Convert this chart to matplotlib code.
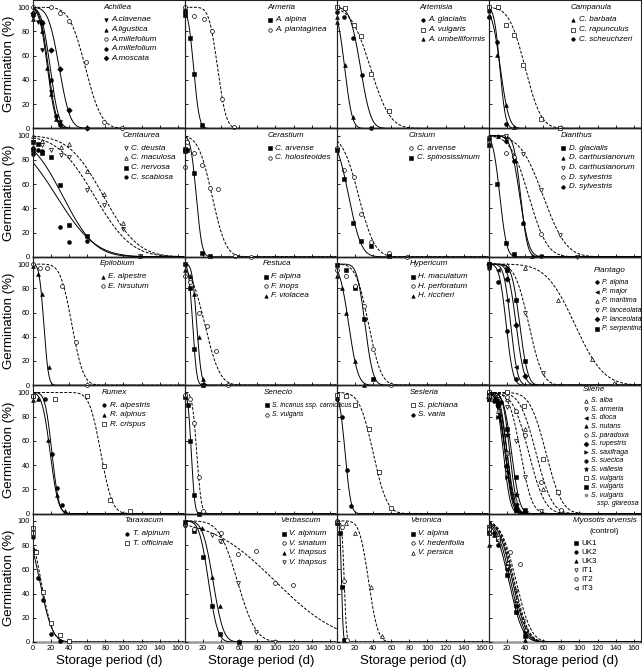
import math
import numpy as np
import matplotlib
matplotlib.use("Agg")
import matplotlib.pyplot as plt

plt.rcParams["font.family"] = ["Liberation Sans", "DejaVu Sans"]

# ---------------- data ----------------
# each series: days, germination (%), fitted curve p50 (d) and sigma (d)

achillea_names = ["A.clavenae", "A.ligustica", "A.millefolium", "A.millefolium", "A.moscata"]
achillea_days = [[0, 5, 10, 20, 30], [0, 10, 15, 20, 25], [0, 20, 30, 40, 59, 78, 98],
                 [0, 10, 20, 25, 30], [0, 10, 20, 30, 40, 60]]
achillea_germ = [[92, 88, 65, 30, 5], [90, 80, 50, 28, 8], [100, 100, 95, 89, 55, 5, 0],
                 [94, 88, 40, 10, 3], [95, 87, 65, 49, 15, 0]]
achillea_p50 = [16, 17, 58, 19, 29]
achillea_sigma = [7, 7, 14, 7.5, 9.5]

armeria_names = ["A. alpina", "A. plantaginea"]
armeria_days = [[0, 0, 5, 10, 19], [0, 10, 21, 30, 41, 54]]
armeria_germ = [[97, 94, 75, 45, 3], [100, 93, 90, 80, 24, 1]]
armeria_p50 = [9.5, 36]
armeria_sigma = [5, 7.5]

artemisia_names = ["A. glacialis", "A. vulgaris", "A. umbelliformis"]
artemisia_days = [[0, 8, 18, 28, 38], [0, 9, 19, 27, 38, 57], [0, 0, 8.5, 17.6]]
artemisia_germ = [[96, 92, 75, 44, 0], [100, 99, 85, 76, 45, 14], [92, 88, 52, 9]]
artemisia_p50 = [26, 37, 8.5]
artemisia_sigma = [9, 17, 6.5]

campanula_names = ["C. barbata", "C. rapunculus", "C. scheuchzeri"]
campanula_days = [[0, 9, 19, 28], [0, 10, 19, 28, 38, 57, 78], [0, 0, 9, 19]]
campanula_germ = [[93, 61, 19, 1], [100, 100, 85, 77, 52, 8, 0], [97, 92, 71, 4]]
campanula_p50 = [12.5, 40, 12]
campanula_sigma = [7.5, 14, 5]

centaurea_names = ["C. deusta", "C. maculosa", "C. nervosa", "C. scabiosa"]
centaurea_days = [[0, 10, 20, 31, 40, 60, 79, 99, 118], [0, 10, 31, 40, 60, 79, 99, 118],
                  [0, 0, 5, 10, 20, 30, 40, 60], [0, 0, 5, 10, 30, 40, 60]]
centaurea_germ = [[95, 92, 88, 84, 82, 55, 43, 23, 1], [100, 96, 91, 93, 71, 52, 28, 1],
                  [95, 88, 93, 86, 82, 59, 26, 17], [90, 85, 88, 87, 25, 12, 13]]
centaurea_p50 = [68, 78, 33, 26]
centaurea_sigma = [32, 30, 28, 34]

cerastium_names = ["C. arvense", "C. holosteoides"]
cerastium_days = [[0, 0, 2, 10, 19, 28], [0, 2, 10, 19, 28, 37, 55, 73]]
cerastium_germ = [[89, 87, 88, 69, 3, 1], [74, 95, 86, 76, 57, 56, 1, 0]]
cerastium_p50 = [12.5, 30]
cerastium_sigma = [5, 12]

cirsium_names = ["C. arvense", "C. spinosissimum"]
cirsium_days = [[0, 8, 19, 27, 38, 57, 77], [0, 8, 18, 27, 38, 57]]
cirsium_germ = [[90, 72, 66, 35, 12, 3, 0], [88, 64, 28, 13, 9, 1]]
cirsium_p50 = [24, 13]
cirsium_sigma = [14, 11]

dianthus_names = ["D. glacialis", "D. carthusianorum", "D. carthusianorum", "D. sylvestris", "D. sylvestris"]
dianthus_days = [[0, 9, 19, 28], [0, 10, 19, 38, 48], [0, 19, 38, 57, 78, 97],
                 [0, 19, 28, 57], [0, 19, 28, 38, 57]]
dianthus_germ = [[92, 60, 11, 2], [100, 100, 100, 28, 1], [98, 100, 85, 55, 18, 0],
                 [96, 86, 82, 19], [97, 96, 79, 28, 1]]
dianthus_p50 = [12, 35, 60, 44, 34]
dianthus_sigma = [6, 6, 20, 16, 8]

epilobium_names = ["E. alpestre", "E. hirsutum"]
epilobium_days = [[0, 5, 10, 17.6], [0, 8, 16, 32, 47, 60]]
epilobium_germ = [[98, 92, 75, 15], [100, 97, 97, 82, 36, 0]]
epilobium_p50 = [12, 43]
epilobium_sigma = [4, 10]

festuca_names = ["F. alpina", "F. inops", "F. violacea"]
festuca_days = [[0, 5, 10, 20], [0, 5, 15, 24, 34, 47], [0, 5, 10, 15, 20]]
festuca_germ = [[100, 80, 30, 0], [90, 85, 60, 49, 28, 0], [95, 90, 75, 40, 5]]
festuca_p50 = [8.5, 22, 13]
festuca_sigma = [3.5, 13, 4]

hypericum_names = ["H. maculatum", "H. perforatum", "H. riccheri"]
hypericum_days = [[0, 10, 20, 30, 40], [0, 10, 20, 30, 40, 60], [0, 5, 10, 20, 30]]
hypericum_germ = [[99, 95, 80, 55, 5], [95, 90, 82, 65, 30, 0], [90, 80, 60, 20, 0]]
hypericum_p50 = [31, 35, 13]
hypericum_sigma = [7, 11, 8]

plantago_names = ["P. alpina", "P. major", "P. maritima", "P. lanceolata", "P. lanceolata", "P. serpentina"]
plantago_days = [[0, 10, 20, 30], [0, 10, 20, 30], [0, 20, 40, 76, 114, 138],
                 [0, 20, 40, 60], [0, 20, 30, 40], [0, 20, 30, 40]]
plantago_germ = [[97, 85, 45, 5], [98, 95, 70, 15], [100, 99, 97, 70, 22, 2],
                 [100, 95, 60, 10], [100, 88, 50, 8], [100, 95, 70, 20]]
plantago_p50 = [19, 24, 95, 44, 30, 34]
plantago_sigma = [6, 6, 25, 12, 7, 7]

rumex_names = ["R. alpestris", "R. alpinus", "R. crispus"]
rumex_days = [[0, 13, 21, 26, 32], [0, 5.5, 16.5, 26, 35], [0, 24, 60, 78, 85, 107]]
rumex_germ = [[97, 95, 49, 21, 7], [94, 95, 61, 15, 2], [97, 95, 97, 39, 11, 2]]
rumex_p50 = [21, 19, 75]
rumex_sigma = [6, 7, 10]

senecio_names = ["S. incanus ssp. carniolicus", "S. vulgaris"]
senecio_days = [[0, 3, 6, 10, 15], [0, 5, 10, 15, 20]]
senecio_germ = [[96, 90, 60, 15, 0], [98, 95, 75, 30, 2]]
senecio_p50 = [7, 13]
senecio_sigma = [3, 4]

sesleria_names = ["S. pichiana", "S. varia"]
sesleria_days = [[0, 10, 20, 35, 46, 60], [0, 5, 11, 16]]
sesleria_germ = [[98, 97, 90, 70, 34, 5], [95, 80, 36, 6]]
sesleria_p50 = [40, 9]
sesleria_sigma = [12, 5]

silene_names = ["S. alba", "S. armeria", "S. dioca", "S. nutans", "S. paradoxa", "S. rupestris",
                "S. saxifraga", "S. suecica", "S. vallesia", "S. vulgaris", "S. vulgaris", "S. vulgaris"]
silene_days = [[0, 10, 20, 30, 40, 60, 80], [0, 10, 20, 30, 40, 57], [0, 5, 10, 20, 30],
               [0, 10, 20, 30], [0, 20, 30, 40, 57, 80], [0, 10, 20, 30],
               [0, 10, 20, 30], [0, 5, 13.6, 19, 30], [0, 10, 20, 30, 40],
               [0, 20, 38.5, 60, 76.6], [0, 10, 20, 30, 40], [0, 10, 20, 30]]
silene_germ = [[100, 98, 95, 85, 70, 20, 2], [98, 95, 88, 60, 30, 2], [97, 95, 80, 35, 3],
               [95, 85, 40, 5], [100, 96, 85, 65, 26, 3], [96, 90, 50, 8],
               [95, 80, 30, 2], [98, 93, 92, 39, 5], [95, 92, 65, 15, 1],
               [100, 100, 89, 45, 18], [98, 90, 70, 30, 3], [97, 85, 50, 10]]
silene_p50 = [44, 35, 18, 18, 52, 20, 16, 18, 23, 63, 25, 20]
silene_sigma = [14, 10, 7, 6, 14, 6, 6, 7, 6, 14, 7, 7]

taraxacum_names = ["T. alpinum", "T. officinale"]
taraxacum_days = [[0, 2.5, 5.6, 11, 19.7, 30], [0, 0, 3, 11, 20, 30, 40]]
taraxacum_germ = [[87, 75, 53, 35, 7, 1], [94, 90, 74, 41, 16, 6, 1]]
taraxacum_p50 = [7.5, 9]
taraxacum_sigma = [11, 10]

verbascum_names = ["V. alpinum", "V. sinatum", "V. thapsus", "V. thapsus"]
verbascum_days = [[0, 10, 20, 29.6, 38.5, 60], [0, 10, 39.5, 39.5, 59, 79, 99, 119],
                  [0, 19, 29.6, 38.5], [0, 29.6, 38.5, 59, 79, 99]]
verbascum_germ = [[99, 92, 70, 30, 7, 0], [97, 93, 90, 83, 73, 75, 49, 47],
                  [98, 94, 54, 30], [96, 88, 83, 49, 8, 0]]
verbascum_p50 = [26, 100, 31, 58]
verbascum_sigma = [8, 55, 9, 16]

veronica_names = ["V. alpina", "V. hederifolia", "V. persica"]
veronica_days = [[0, 3, 5.5, 8], [0, 5, 8, 11], [0, 10, 20, 38, 50]]
veronica_germ = [[98, 90, 45, 2], [100, 95, 50, 2], [100, 98, 90, 45, 5]]
veronica_p50 = [5, 8, 35]
veronica_sigma = [1.5, 2, 8]

myosotis_names = ["UK1", "UK2", "UK3", "IT1", "IT2", "IT3"]
myosotis_days = [[0, 0, 10, 20, 30, 40], [0, 5, 10, 20, 30, 40], [0, 5, 10, 20, 30, 40],
                 [0, 10, 20, 30, 38], [0, 10, 22.7, 33.8], [0, 10, 20, 30, 40]]
myosotis_germ = [[95, 90, 85, 55, 25, 5], [92, 90, 80, 60, 30, 8], [80, 88, 85, 65, 35, 2],
                 [95, 85, 62, 42, 17], [93, 86, 74, 64], [90, 84, 65, 35, 10]]
myosotis_p50 = [22, 24, 26, 30, 28, 27]
myosotis_sigma = [12, 12, 12, 13, 12, 12]

genera = ["Achillea", "Armeria", "Artemisia", "Campanula",
          "Centaurea", "Cerastium", "Cirsium", "Dianthus",
          "Epilobium", "Festuca", "Hypericum", "Plantago",
          "Rumex", "Senecio", "Sesleria", "Silene",
          "Taraxacum", "Verbascum", "Veronica", "Myosotis arvensis"]

# ---------------- styles: (marker, filled, dashed) ----------------
S = {
    "Achillea": [("v", 1, 0), ("^", 1, 0), ("o", 0, 1), ("o", 1, 0), ("D", 1, 0)],
    "Armeria": [("s", 1, 0), ("o", 0, 1)],
    "Artemisia": [("o", 1, 0), ("s", 0, 1), ("^", 1, 0)],
    "Campanula": [("^", 1, 0), ("s", 0, 1), ("o", 1, 0)],
    "Centaurea": [("v", 0, 1), ("^", 0, 1), ("s", 1, 0), ("o", 1, 0)],
    "Cerastium": [("s", 1, 0), ("o", 0, 1)],
    "Cirsium": [("o", 0, 1), ("s", 1, 0)],
    "Dianthus": [("s", 1, 0), ("^", 1, 0), ("v", 0, 1), ("o", 0, 1), ("o", 1, 0)],
    "Epilobium": [("^", 1, 0), ("o", 0, 1)],
    "Festuca": [("s", 1, 0), ("o", 0, 1), ("^", 1, 0)],
    "Hypericum": [("s", 1, 0), ("o", 0, 1), ("^", 1, 0)],
    "Plantago": [("o", 1, 0), ("<", 1, 0), ("^", 0, 1), ("v", 0, 1), ("D", 1, 0), ("s", 1, 0)],
    "Rumex": [("o", 1, 0), ("^", 1, 0), ("s", 0, 1)],
    "Senecio": [("s", 1, 0), ("o", 0, 1)],
    "Sesleria": [("s", 0, 1), ("o", 1, 0)],
    "Silene": [("^", 0, 1), ("v", 0, 1), ("<", 1, 0), ("^", 1, 0), ("o", 0, 1), ("D", 1, 0),
               (">", 1, 0), ("o", 1, 0), ("*", 1, 0), ("s", 0, 1), ("s", 1, 0), (".", 2, 0)],
    "Taraxacum": [("o", 1, 0), ("s", 0, 1)],
    "Verbascum": [("s", 1, 0), ("o", 0, 1), ("^", 1, 0), ("v", 0, 1)],
    "Veronica": [("s", 1, 0), ("o", 0, 1), ("^", 0, 1)],
    "Myosotis arvensis": [("s", 1, 0), ("o", 1, 0), ("^", 1, 0), ("v", 0, 1), ("o", 0, 1), ("<", 0, 1)],
}

# legend x (axes fraction) per panel, and (title y, first entry y, spacing)
LEG_X = [0.47, 0.55, 0.555, 0.545, 0.60, 0.55, 0.48, 0.48, 0.45, 0.52, 0.49, 0.70,
         0.46, 0.53, 0.49, 0.625, 0.61, 0.64, 0.49, 0.56]
LEG_Y = {"default": (0.945, 0.845, 0.075), "Silene": (0.965, 0.88, 0.067),
         "Plantago": (0.89, 0.80, 0.072), "Myosotis arvensis": (0.95, 0.85, 0.07)}
LEG_FS = {"default": 5.8, "Plantago": 5.0, "Silene": 5.0, "Senecio": 4.9}

panels = [
    (achillea_names, achillea_days, achillea_germ, achillea_p50, achillea_sigma),
    (armeria_names, armeria_days, armeria_germ, armeria_p50, armeria_sigma),
    (artemisia_names, artemisia_days, artemisia_germ, artemisia_p50, artemisia_sigma),
    (campanula_names, campanula_days, campanula_germ, campanula_p50, campanula_sigma),
    (centaurea_names, centaurea_days, centaurea_germ, centaurea_p50, centaurea_sigma),
    (cerastium_names, cerastium_days, cerastium_germ, cerastium_p50, cerastium_sigma),
    (cirsium_names, cirsium_days, cirsium_germ, cirsium_p50, cirsium_sigma),
    (dianthus_names, dianthus_days, dianthus_germ, dianthus_p50, dianthus_sigma),
    (epilobium_names, epilobium_days, epilobium_germ, epilobium_p50, epilobium_sigma),
    (festuca_names, festuca_days, festuca_germ, festuca_p50, festuca_sigma),
    (hypericum_names, hypericum_days, hypericum_germ, hypericum_p50, hypericum_sigma),
    (plantago_names, plantago_days, plantago_germ, plantago_p50, plantago_sigma),
    (rumex_names, rumex_days, rumex_germ, rumex_p50, rumex_sigma),
    (senecio_names, senecio_days, senecio_germ, senecio_p50, senecio_sigma),
    (sesleria_names, sesleria_days, sesleria_germ, sesleria_p50, sesleria_sigma),
    (silene_names, silene_days, silene_germ, silene_p50, silene_sigma),
    (taraxacum_names, taraxacum_days, taraxacum_germ, taraxacum_p50, taraxacum_sigma),
    (verbascum_names, verbascum_days, verbascum_germ, verbascum_p50, verbascum_sigma),
    (veronica_names, veronica_days, veronica_germ, veronica_p50, veronica_sigma),
    (myosotis_names, myosotis_days, myosotis_germ, myosotis_p50, myosotis_sigma),
]

_erf = np.vectorize(math.erf)


def probit_curve(x, p50, sigma):
    z = (p50 - x) / sigma
    return 50.0 * (1.0 + _erf(z / math.sqrt(2.0)))


def marker_kw(mk, filled, scale=1.0):
    kw = dict(marker=mk, color="black", linestyle="none", clip_on=False)
    if filled == 1:
        kw.update(markersize=2.8 * scale, markerfacecolor="black", markeredgecolor="black", markeredgewidth=0.4)
    elif filled == 0:
        kw.update(markersize=2.8 * scale, markerfacecolor="white", markeredgecolor="black", markeredgewidth=0.5)
    else:
        kw.update(markersize=3.5 * scale, markerfacecolor="#888888", markeredgecolor="#888888")
    if mk == "*":
        kw["markersize"] = 4.0 * scale
    return kw


W, H = 642, 669
fig = plt.figure(figsize=(W / 100, H / 100), dpi=100, facecolor="white")
left_px, right_px, bottom_px, top_px = 33, 641, 642, 0
cw = (right_px - left_px) / 4
rh = (bottom_px - top_px) / 5
XMAX = 168
xs = np.linspace(0, XMAX, 500)

for k, (names, days, germ, p50s, sigmas) in enumerate(panels):
    r, c = divmod(k, 4)
    genus = genera[k]
    ax = fig.add_axes([(left_px + c * cw) / W, (H - bottom_px + (4 - r) * rh) / H, cw / W, rh / H])
    ax.patch.set_visible(False)
    ax.set_xlim(0, XMAX)
    ax.set_ylim(0, 106)
    styles = S[genus]
    for i in range(len(names)):
        mk, filled, dashed = styles[i]
        ax.plot(xs, probit_curve(xs, p50s[i], sigmas[i]), color="black", lw=0.7,
                linestyle=(0, (3, 1.6)) if dashed else "-")
        ax.plot(days[i], germ[i], **marker_kw(mk, filled))

    # legend drawn by hand
    ty, y0, dy = LEG_Y.get(genus, LEG_Y["default"])
    fs = LEG_FS.get(genus, LEG_FS["default"])
    lx = LEG_X[k]
    if genus == "Myosotis arvensis":
        ax.text(0.76, ty, "Myosotis arvensis", transform=ax.transAxes, fontsize=fs,
                style="italic", ha="center", va="center")
        ax.text(0.76, ty - 0.09, "(control)", transform=ax.transAxes, fontsize=fs,
                ha="center", va="center")
        y0 = ty - 0.18
        italic = "normal"
    else:
        ax.text(lx - 0.01, ty, genus, transform=ax.transAxes, fontsize=5.8,
                style="italic", ha="left", va="center")
        italic = "italic"
    for i, nm in enumerate(names):
        yy = y0 - i * dy
        mk, filled, dashed = styles[i]
        ax.plot([lx + 0.01], [yy], transform=ax.transAxes, **marker_kw(mk, filled, 0.9))
        ax.text(lx + 0.045, yy, nm, transform=ax.transAxes, fontsize=fs,
                style=italic, ha="left", va="center")
    if genus == "Silene":
        ax.text(lx + 0.085, y0 - len(names) * dy, "ssp. glareosa", transform=ax.transAxes,
                fontsize=fs, style="italic", ha="left", va="center")

    ax.set_xticks(range(0, 161, 20))
    ax.set_yticks(range(0, 101, 20))
    ax.tick_params(direction="in", length=2.5, width=0.6, labelsize=5.3, pad=2)
    if c != 0:
        ax.set_yticklabels([])
    else:
        ax.set_ylabel("Germination (%)", fontsize=9.5, labelpad=2)
    if r != 4:
        ax.set_xticklabels([])
    else:
        ax.set_xlabel("Storage period (d)", fontsize=9.5, labelpad=2)
        if c != 0:
            ax.get_xticklabels()[0].set_horizontalalignment("left")
    for side in ("left", "right", "top"):
        ax.spines[side].set_linewidth(0.8)
        ax.spines[side].set_color("#222222")
    ax.spines["bottom"].set_linewidth(1.8)
    ax.spines["bottom"].set_color("#999999")
    ax.spines["bottom"].set_zorder(0.5)

fig.savefig("out.png", dpi=100, facecolor="white")
